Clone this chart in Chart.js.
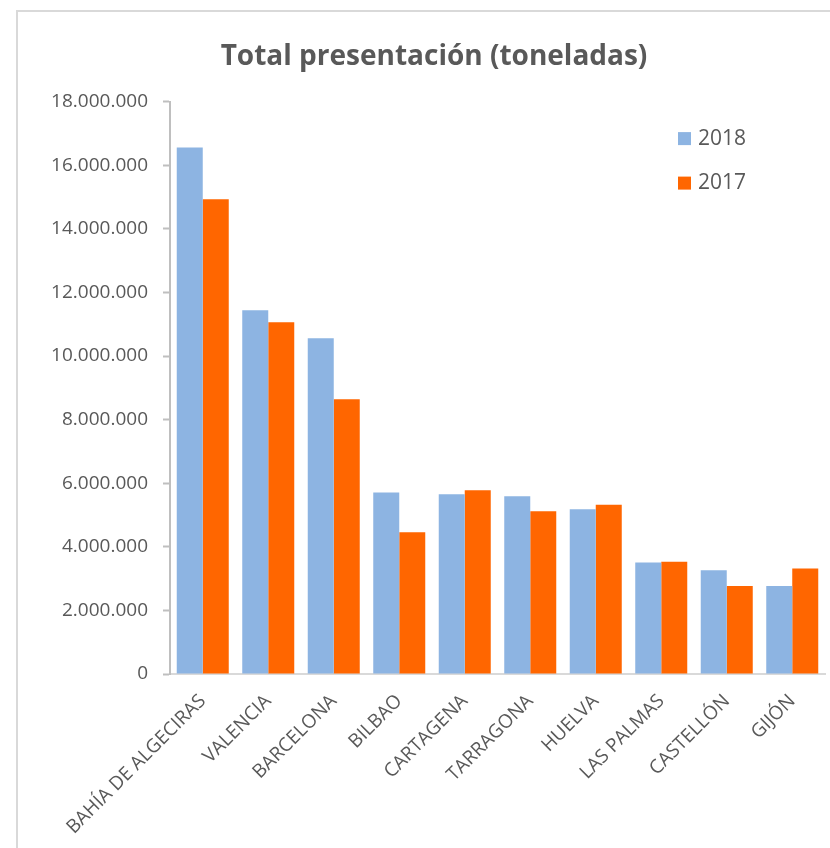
<!DOCTYPE html>
<html>
<head>
<meta charset="utf-8">
<script src="https://cdn.jsdelivr.net/npm/chart.js@4.4.0/dist/chart.umd.min.js"></script>
<style>
  body { margin: 0; background: #fff; }
</style>
</head>
<body>
<canvas id="tonChart" width="830" height="848"></canvas>
<script>
const puertos = ['BAHÍA DE ALGECIRAS', 'VALENCIA', 'BARCELONA', 'BILBAO', 'CARTAGENA',
    'TARRAGONA', 'HUELVA', 'LAS PALMAS', 'CASTELLÓN', 'GIJÓN'];
const total2018 = [16560000, 11440000, 10560000, 5710000, 5650000, 5590000, 5180000, 3510000, 3260000, 2770000];
const total2017 = [14930000, 11060000, 8640000, 4460000, 5780000, 5120000, 5320000, 3530000, 2770000, 3320000];
const yTicks = [0, 2000000, 4000000, 6000000, 8000000, 10000000, 12000000, 14000000, 16000000, 18000000];

const gris = '#595959';

function puntos(n) {
    return String(n).replace(/\B(?=(\d{3})+(?!\d))/g, '.');
}

// marco gris y leyenda dentro del area del grafico
const marco = {
    id: 'marco',
    beforeDraw(chart) {
        const ctx = chart.ctx;
        ctx.save();
        ctx.strokeStyle = '#d9d9d9';
        ctx.lineWidth = 2;
        ctx.strokeRect(17, 11, 900, 900);
        ctx.restore();
    },
    afterDraw(chart) {
        const ctx = chart.ctx;
        const area = chart.chartArea;
        ctx.save();
        ctx.font = '21px "Open Sans"';
        ctx.textBaseline = 'middle';
        chart.data.datasets.forEach((ds, i) => {
            const y = area.top + 37 + i * 44.5;
            ctx.fillStyle = ds.backgroundColor;
            ctx.fillRect(area.right - 147, y - 6.5, 13, 13);
            ctx.fillStyle = gris;
            ctx.fillText(ds.label, area.right - 127, y);
        });
        ctx.restore();
    }
};

const ctx = document.getElementById('tonChart').getContext('2d');

new Chart(ctx, {
    type: 'bar',
    data: {
        labels: puertos,
        datasets: [{
            label: '2018',
            data: total2018,
            backgroundColor: '#8db4e2'
        }, {
            label: '2017',
            data: total2017,
            backgroundColor: '#ff6600'
        }]
    },
    options: {
        responsive: false,
        animation: false,
        categoryPercentage: 0.794,
        barPercentage: 1,
        layout: { padding: { left: 43, right: 5, top: 10, bottom: 0 } },
        plugins: {
            legend: { display: false },
            tooltip: { enabled: false },
            title: {
                display: true,
                text: 'Total presentación (toneladas)',
                color: gris,
                font: { family: 'Open Sans', size: 28, weight: 'bold' },
                padding: { top: 30, bottom: 28 }
            }
        },
        scales: {
            x: {
                grid: { display: false },
                border: { color: '#d9d9d9', width: 2 },
                ticks: {
                    color: gris,
                    font: { family: 'Open Sans', size: 19 },
                    maxRotation: 45,
                    minRotation: 45,
                    autoSkip: false,
                    padding: 8
                },
                afterFit(scale) { scale.height = 174; }
            },
            y: {
                min: 0,
                max: 18000000,
                afterBuildTicks(scale) { scale.ticks = yTicks.map(v => ({ value: v })); },
                grid: { drawOnChartArea: false, tickLength: 7, tickColor: '#bfbfbf', tickWidth: 2 },
                border: { color: '#bfbfbf', width: 2 },
                ticks: {
                    color: gris,
                    font: { family: 'Open Sans', size: 19 },
                    padding: 15,
                    callback: v => puntos(v)
                },
                afterFit(scale) { scale.width = 127; }
            }
        }
    },
    plugins: [marco]
});
</script>
</body>
</html>
